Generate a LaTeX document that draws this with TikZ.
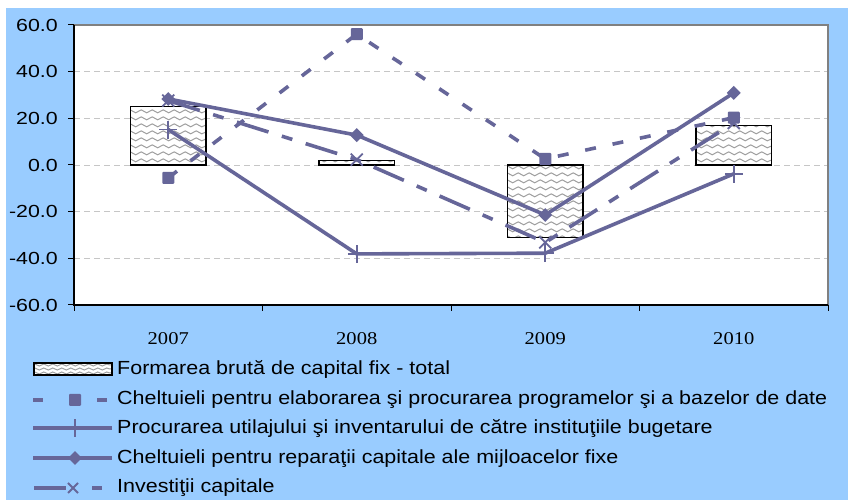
\documentclass[tikz,border=0pt]{standalone}
\usepackage{fontspec}
\setmainfont{Liberation Sans}
\newfontfamily\legfont[FakeStretch=1.13]{Liberation Sans}
\newfontfamily\tickfont[FakeStretch=1.22]{Liberation Sans}
\newfontfamily\yearfont[FakeStretch=1.14]{Liberation Serif}
\usetikzlibrary{shapes.geometric,decorations.pathmorphing}
\definecolor{chartbg}{HTML}{99CCFF}
\definecolor{serie}{HTML}{666699}
\tikzset{
  serieline/.style={draw=serie, line width=3.6pt, line join=round},
  shortdash/.style={serieline, dash pattern=on 11pt off 17pt},
  longdashdot/.style={serieline, dash pattern=on 33pt off 14pt on 11pt off 14pt},
  sqmark/.style={fill=serie, minimum size=12pt, inner sep=0pt, rounded corners=1pt},
  dmmark/.style={fill=serie, diamond, minimum size=14pt, inner sep=0pt},
  wave/.style={gray!75, line width=1pt, decorate, decoration={snake, amplitude=1.5pt, segment length=11pt}},
  barbox/.style={draw=black, line width=1.6pt},
  ticklabel/.style={inner sep=0pt, font=\tickfont\fontsize{17.5}{20}\selectfont},
  legtext/.style={anchor=base west, inner sep=0pt, font=\legfont\fontsize{19}{22}\selectfont},
}
\begin{document}
\begin{tikzpicture}[x=1pt, y=1pt, line cap=butt]
  \useasboundingbox (0,0) rectangle (848,500);
  \fill[chartbg] (6,0) rectangle (848,492);
  \begin{scope}[shift={(74,335)}, x=188.5pt, y=2.3333pt]
    \fill[white] (0,-60) rectangle (4,60);
    \foreach \t in {-40,-20,...,40}
      \draw[gray!45, line width=0.8pt, dash pattern=on 6pt off 4pt] (0,\t) -- (4,\t);
    % bars
    \foreach \v [count=\i] in {25,2,-31,17} {
      \fill[white] (\i-0.7,0) rectangle (\i-0.3,\v);
      \begin{scope}
        \clip (\i-0.7,0) rectangle (\i-0.3,\v);
        \foreach \r in {-34,-31,...,28}
          \draw[wave] (\i-0.72,\r) -- (\i-0.28,\r);
      \end{scope}
      \draw[barbox] (\i-0.7,0) rectangle (\i-0.3,\v);
    }
    % axes
    \draw[gray, line width=1.5pt] (0,60) -- (4,60) -- (4,-60);
    \draw[black, line width=1.5pt] (0,60) -- (0,-60) -- (4,-60);
    \foreach \t in {-60,-40,...,60} {
      \draw[line width=1pt] (0,\t) -- ++(-6pt,0);
      \node[ticklabel, anchor=east, xshift=-16pt] (yl\t) at (0,\t) {\t.0};
    }
    \foreach \i in {0,...,4}
      \draw[line width=1pt] (\i,-60) -- ++(0,-6pt);
    \foreach \y [count=\i] in {2007,2008,2009,2010}
      \node[anchor=base, inner sep=0pt, font=\yearfont\fontsize{18}{20}\selectfont, yshift=-40pt] (yr\i) at (\i-0.5,-60) {\y};
    % data points
    \foreach \a/\b/\c/\d [count=\i] in {-5.5/15.2/28.3/27.6, 56.1/-38.1/12.8/2.3, 2.6/-37.8/-21.4/-33.2, 20.3/-3.8/30.9/18.0} {
      \coordinate (sq\i) at (\i-0.5,\a);
      \coordinate (pl\i) at (\i-0.5,\b);
      \coordinate (dm\i) at (\i-0.5,\c);
      \coordinate (cr\i) at (\i-0.5,\d);
    }
    \draw[shortdash] (sq1) -- (sq2) -- (sq3) -- (sq4);
    \draw[serieline] (pl1) -- (pl2) -- (pl3) -- (pl4);
    \draw[serieline] (dm1) -- (dm2) -- (dm3) -- (dm4);
    \draw[longdashdot] (cr1) -- (cr2) -- (cr3) -- (cr4);
    \foreach \i in {1,...,4} {
      \node[sqmark] at (sq\i) {};
      \node[dmmark] at (dm\i) {};
      \draw[serie, line width=1.8pt] ([xshift=-9pt]pl\i) -- ([xshift=9pt]pl\i) ([yshift=-9pt]pl\i) -- ([yshift=9pt]pl\i);
      \draw[serie, line width=1.8pt] ([shift={(-6pt,-6pt)}]cr\i) -- ([shift={(6pt,6pt)}]cr\i) ([shift={(-6pt,6pt)}]cr\i) -- ([shift={(6pt,-6pt)}]cr\i);
    }
  \end{scope}
  % legend
  \fill[white] (34,125) rectangle (112,137);
  \begin{scope}
    \clip (34,125) rectangle (112,137);
    \foreach \r in {127,131,135}
      \draw[wave, decoration={amplitude=1pt, segment length=9pt}] (32,\r) -- (114,\r);
  \end{scope}
  \draw[barbox] (34,125) rectangle (112,137);
  \draw[serieline] (33,100) -- (43,100) (97,100) -- (107,100);
  \node[sqmark] (lsq) at (75,100) {};
  \draw[serieline] (33,72) -- (112,72);
  \draw[serie, line width=1.8pt] (75,63) -- (75,81);
  \draw[serieline] (33,42) -- (112,42);
  \node[dmmark] (ldm) at (75,42) {};
  \draw[serieline] (34,12) -- (66,12) (92,12) -- (102,12);
  \draw[serie, line width=1.8pt] (68,7) -- (78,17) (68,17) -- (78,7);
  \node[legtext] (lt1) at (117,125) {Formarea brută de capital fix - total};
  \node[legtext] (lt2) at (117,95.5) {Cheltuieli pentru elaborarea şi procurarea programelor şi a bazelor de date};
  \node[legtext] (lt3) at (117,66) {Procurarea utilajului şi inventarului de către instituţiile bugetare};
  \node[legtext] (lt4) at (117,36.5) {Cheltuieli pentru reparaţii capitale ale mijloacelor fixe};
  \node[legtext] (lt5) at (117,7) {Investiţii capitale};
\end{tikzpicture}
\end{document}
